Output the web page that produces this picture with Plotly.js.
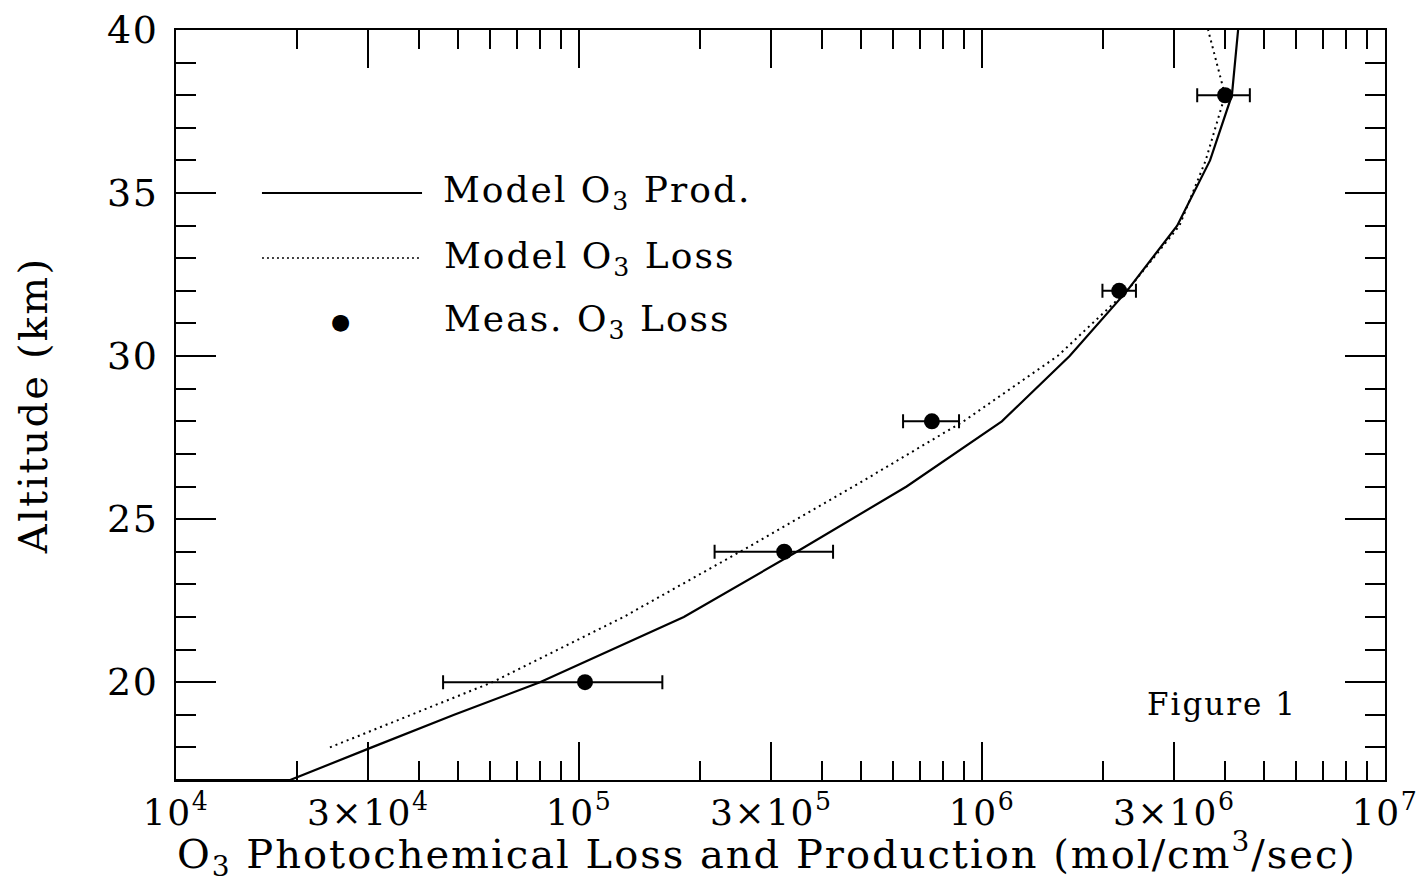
<!DOCTYPE html>
<html>
<head>
<meta charset="utf-8">
<script src="https://cdn.plot.ly/plotly-3.0.1.min.js"></script>
<style>
html,body{margin:0;padding:0;background:#fff;}
#chart .ytitle { letter-spacing: 2.2px; }
#chart .annotation-text { letter-spacing: 2px; }
#chart .xtick text, #chart .ytick text { letter-spacing: 1.5px; }
</style>
</head>
<body>
<div id="chart" style="width:1425px;height:883px;"></div>
<script>
// ---- data ----
const prodAlt  = [17, 17, 18, 19, 20, 22, 24, 26, 28, 30, 32, 34, 36, 38, 40];
const prodRate = [1.0e4, 1.92e4, 3.06e4, 4.9e4, 8.0e4, 1.82e5, 3.47e5, 6.5e5, 1.12e6, 1.65e6, 2.29e6, 3.05e6, 3.68e6, 4.17e6, 4.32e6];

const lossAlt  = [18, 19, 20, 22, 24, 26, 28, 30, 32, 34, 36, 38, 40];
const lossRate = [2.41e4, 3.85e4, 6.1e4, 1.29e5, 2.51e5, 4.8e5, 9.0e5, 1.54e6, 2.29e6, 3.09e6, 3.59e6, 4.01e6, 3.64e6];

const measAlt  = [20, 24, 28, 32, 38];
const measRate = [1.035e5, 3.23e5, 7.51e5, 2.19e6, 4.01e6];
const measLow  = [4.6e4, 2.17e5, 6.37e5, 1.99e6, 3.42e6];
const measHigh = [1.61e5, 4.27e5, 8.77e5, 2.41e6, 4.62e6];

const xTickVals = [1e4, 3e4, 1e5, 3e5, 1e6, 3e6, 1e7];
const xTickText = ['10<sup>4</sup>', '3×10<sup>4</sup>', '10<sup>5</sup>', '3×10<sup>5</sup>', '10<sup>6</sup>', '3×10<sup>6</sup>', '10<sup>7</sup>'];
const xMinorMant = [2, 4, 5, 6, 7, 8, 9];
const xDecades = [1e4, 1e5, 1e6];
const yTickVals = [20, 25, 30, 35, 40];
const yMinorVals = [17, 18, 19, 21, 22, 23, 24, 26, 27, 28, 29, 31, 32, 33, 34, 36, 37, 38, 39];

const legendLabels = ['Model O<sub>3</sub> Prod.', 'Model O<sub>3</sub> Loss', 'Meas. O<sub>3</sub> Loss'];
const xTitle = 'O<sub>3</sub> Photochemical Loss and Production (mol/cm<sup>3</sup>/sec)';
const yTitle = 'Altitude (km)';

// ---- build ----
const xMinorVals = [];
xDecades.forEach(d => xMinorMant.forEach(m => xMinorVals.push(m * d)));

const FONT = 'DejaVu Serif, Liberation Serif, serif';

const traces = [
  {
    x: prodRate, y: prodAlt, type: 'scatter', mode: 'lines',
    line: {color: '#000', width: 2.2}, showlegend: false, hoverinfo: 'skip'
  },
  {
    x: lossRate, y: lossAlt, type: 'scatter', mode: 'lines',
    line: {color: '#000', width: 2, dash: '2px,4px'}, showlegend: false, hoverinfo: 'skip'
  },
  {
    x: measRate, y: measAlt, type: 'scatter', mode: 'markers',
    marker: {color: '#000', size: 16},
    error_x: {
      type: 'data', symmetric: false,
      array: measRate.map((v, i) => measHigh[i] - v),
      arrayminus: measRate.map((v, i) => v - measLow[i]),
      color: '#000', thickness: 2, width: 7
    },
    showlegend: false, hoverinfo: 'skip'
  }
];

// legend drawn in paper coordinates
const legY = [0.7827, 0.696, 0.6107];
const shapes = [
  {type: 'line', xref: 'paper', yref: 'paper', x0: 0.0711, x1: 0.2035, y0: legY[0], y1: legY[0], line: {color: '#000', width: 2.2}},
  {type: 'line', xref: 'paper', yref: 'paper', x0: 0.0711, x1: 0.2035, y0: legY[1], y1: legY[1], line: {color: '#000', width: 1.5, dash: '2px,3px'}}
];
const annotations = legendLabels.map((t, i) => ({
  xref: 'paper', yref: 'paper', x: 0.2305, y: legY[i], xanchor: 'left', yanchor: 'middle',
  text: t, showarrow: false, font: {family: FONT, size: 36, color: '#000'}
}));
annotations.push({
  xref: 'paper', yref: 'paper', x: 0.1365, y: legY[2], xanchor: 'center', yanchor: 'middle',
  text: '●', showarrow: false, font: {family: FONT, size: 22, color: '#000'}
});
annotations.push({
  xref: 'paper', yref: 'paper', x: 0.9225, y: 0.101, xanchor: 'right', yanchor: 'middle',
  text: 'Figure 1', showarrow: false, font: {family: FONT, size: 31, color: '#000'}
});
// x-axis title as annotation for exact placement
annotations.push({
  xref: 'paper', yref: 'paper', x: 0.489, y: -0.099, xanchor: 'center', yanchor: 'middle',
  text: xTitle, showarrow: false, font: {family: FONT, size: 40, color: '#000'}
});

const layout = {
  width: 1425, height: 883,
  margin: {l: 176, r: 40, t: 30, b: 103},
  paper_bgcolor: '#fff', plot_bgcolor: '#fff',
  font: {family: FONT, size: 36, color: '#000'},
  showlegend: false,
  xaxis: {
    type: 'log', range: [4, 7],
    tickmode: 'array', tickvals: xTickVals, ticktext: xTickText,
    ticks: 'inside', ticklen: 38, tickwidth: 2, tickcolor: '#000',
    minor: {tickmode: 'array', tickvals: xMinorVals, ticks: 'inside', ticklen: 19, tickwidth: 2, tickcolor: '#000', showgrid: false},
    showline: true, linewidth: 2, linecolor: '#000', mirror: 'allticks',
    showgrid: false, zeroline: false,
    tickfont: {family: FONT, size: 36}
  },
  yaxis: {
    range: [17, 40],
    tickmode: 'array', tickvals: yTickVals,
    ticks: 'inside', ticklen: 40, tickwidth: 2, tickcolor: '#000',
    minor: {tickmode: 'array', tickvals: yMinorVals, ticks: 'inside', ticklen: 20, tickwidth: 2, tickcolor: '#000', showgrid: false},
    showline: true, linewidth: 2, linecolor: '#000', mirror: 'allticks',
    showgrid: false, zeroline: false,
    tickfont: {family: FONT, size: 38},
    ticklabelstandoff: 8,
    title: {text: yTitle, font: {family: FONT, size: 40}, standoff: 50}
  },
  shapes: shapes,
  annotations: annotations
};

Plotly.newPlot('chart', traces, layout, {staticPlot: true, displayModeBar: false});
</script>
</body>
</html>
